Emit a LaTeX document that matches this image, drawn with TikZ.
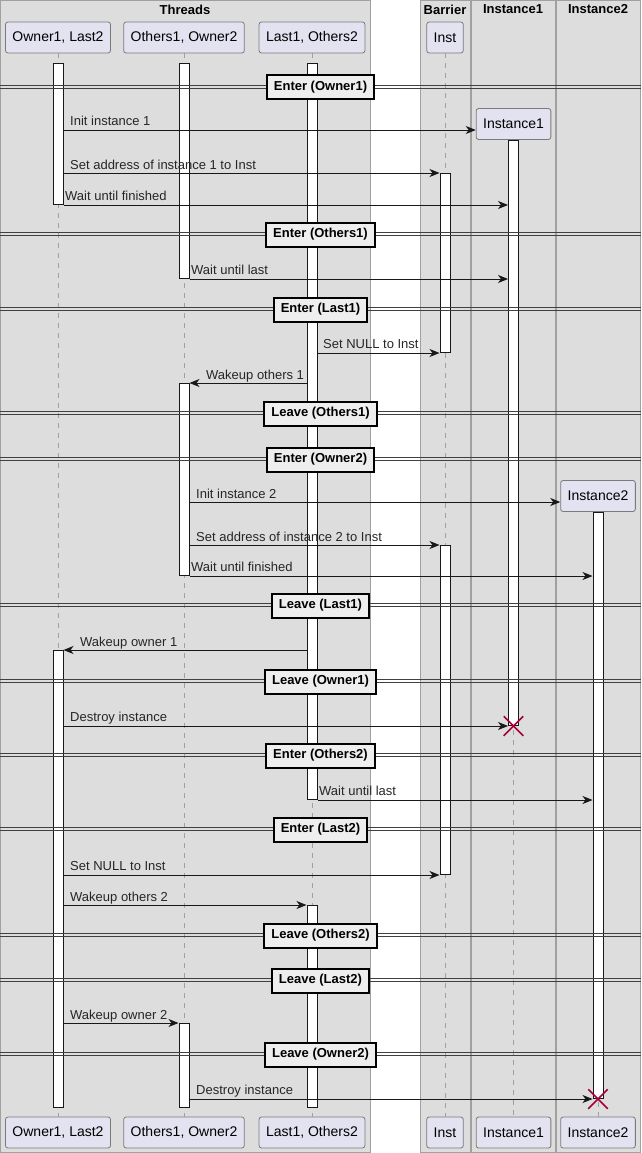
\documentclass[tikz,border=0pt]{standalone}
\usepackage{fontspec}
\setmainfont{Liberation Sans}
\usepackage{tikz}
\usetikzlibrary{shapes, arrows.meta}
\definecolor{boxgray}{HTML}{DDDDDD}
\definecolor{boxline}{HTML}{A0A0A0}
\definecolor{partfill}{HTML}{E2E2F0}
\definecolor{partline}{HTML}{7A7A7A}
\definecolor{dark}{HTML}{181818}
\definecolor{divfill}{HTML}{EEEEEE}
\definecolor{killred}{HTML}{A80036}

\begin{document}
\begin{tikzpicture}[x=1pt, y=-1pt,
	grp/.style={fill=boxgray, draw=boxline, line width=1},
	grptitle/.style={font=\fontsize{13}{15}\selectfont\bfseries, inner sep=0},
	part/.style={draw=partline, fill=partfill, rounded corners=2.5, minimum height=31, inner xsep=7, line width=0.8, font=\fontsize{14}{16}\selectfont},
	life/.style={draw=boxline, line width=1, dash pattern=on 5pt off 5pt},
	bar/.style={draw=dark, fill=white, minimum width=10, inner sep=0, line width=1, anchor=north},
	msg/.style={draw=dark, line width=0.9, -{Stealth[length=10pt, width=8pt, inset=3pt]}},
	lbl/.style={anchor=base west, inner sep=0, text=black!85, font=\fontsize{13}{15}\selectfont},
	divline/.style={draw=black!75, line width=0.9, postaction={draw, transform canvas={yshift=-3pt}}},
	divbox/.style={draw=black, fill=divfill, line width=2, inner xsep=7, minimum height=24, font=\fontsize{13}{15}\selectfont\bfseries},
	kill/.style={draw=killred, cross out, line width=1.5, minimum size=18, inner sep=0}]
		\useasboundingbox (0,0) rectangle (641,1153);
		% boxes
		\draw[grp] (0.5,0.5) rectangle (370,1152.5);
		\draw[grp] (420,0.5) rectangle (470,1152.5);
		\draw[grp] (471,0.5) rectangle (555.5,1152.5);
		\draw[grp] (556.5,0.5) rectangle (640.5,1152.5);
		\node[grptitle] (tThreads) at (185,9.5) {Threads};
		\node[grptitle] (tBarrier) at (445,9.5) {Barrier};
		\node[grptitle] (tInst1) at (513,9.5) {Instance1};
		\node[grptitle] (tInst2) at (598,9.5) {Instance2};
		% participants
		\node[part] (own) at (58,37.5) {Owner1, Last2};
		\node[part] (oth) at (184,37.5) {Others1, Owner2};
		\node[part] (lst) at (312,37.5) {Last1, Others2};
		\node[part] (inst) at (445,37.5) {Inst};
		\node[part] (ins1) at (513.5,124) {Instance1};
		\node[part] (ins2) at (598,496) {Instance2};
		\node[part] (ownB) at (58,1132.5) {Owner1, Last2};
		\node[part] (othB) at (184,1132.5) {Others1, Owner2};
		\node[part] (lstB) at (312,1132.5) {Last1, Others2};
		\node[part] (instB) at (445,1132.5) {Inst};
		\node[part] (ins1B) at (513.5,1132.5) {Instance1};
		\node[part] (ins2B) at (598,1132.5) {Instance2};
		% lifelines
		\draw[life] (own) -- (ownB);
		\draw[life] (oth) -- (othB);
		\draw[life] (lst) -- (lstB);
		\draw[life] (inst) -- (instB);
		\draw[life] (ins1) -- (ins1B);
		\draw[life] (ins2) -- (ins2B);
		% activations
		\node[bar, minimum height=141] (a1) at (58,63) {};
		\node[bar, minimum height=457] (a2) at (58,650) {};
		\node[bar, minimum height=215] (b1) at (184,63) {};
		\node[bar, minimum height=192] (b2) at (184,383) {};
		\node[bar, minimum height=84] (b3) at (184,1023) {};
		\node[bar, minimum height=736] (c1) at (312,63) {};
		\node[bar, minimum height=202] (c2) at (312,905) {};
		\node[bar, minimum height=179] (d1) at (445,173) {};
		\node[bar, minimum height=329] (d2) at (445,545) {};
		\node[bar, minimum height=585] (e1) at (513.5,140) {};
		\node[bar, minimum height=586] (f1) at (598,512) {};
		% messages
		\draw[msg] (a1.east |- 0,130) -- (ins1.west |- 0,130);
		\draw[msg] (a1.east |- d1.north) -- (d1.north west);
		\draw[msg] (a1.south east) -- (e1.west |- a1.south);
		\draw[msg] (b1.south east) -- (e1.west |- b1.south);
		\draw[msg] (c1.east |- d1.south) -- (d1.south west);
		\draw[msg] (c1.west |- b2.north) -- (b2.north east);
		\draw[msg] (b2.east |- 0,502) -- (ins2.west |- 0,502);
		\draw[msg] (b2.east |- d2.north) -- (d2.north west);
		\draw[msg] (b2.south east) -- (f1.west |- b2.south);
		\draw[msg] (c1.west |- a2.north) -- (a2.north east);
		\draw[msg] (a2.east |- e1.south) -- (e1.south west);
		\draw[msg] (c1.south east) -- (f1.west |- c1.south);
		\draw[msg] (a2.east |- d2.south) -- (d2.south west);
		\draw[msg] (a2.east |- c2.north) -- (c2.north west);
		\draw[msg] (a2.east |- b3.north) -- (b3.north west);
		\draw[msg] (b3.east |- f1.south) -- (f1.south west);
		\node[lbl] (m1) at (70,126) {Init instance 1};
		\node[lbl] (m2) at (70,169) {Set address of instance 1 to Inst};
		\node[lbl] (m3) at (65,200) {Wait until finished};
		\node[lbl] (m4) at (191,274) {Wait until last};
		\node[lbl] (m5) at (323,348) {Set NULL to Inst};
		\node[lbl] (m6) at (206,379) {Wakeup others 1};
		\node[lbl] (m7) at (196,498) {Init instance 2};
		\node[lbl] (m8) at (196,541) {Set address of instance 2 to Inst};
		\node[lbl] (m9) at (191,571) {Wait until finished};
		\node[lbl] (m10) at (80,646) {Wakeup owner 1};
		\node[lbl] (m11) at (70,721) {Destroy instance};
		\node[lbl] (m12) at (319,795) {Wait until last};
		\node[lbl] (m13) at (70,870) {Set NULL to Inst};
		\node[lbl] (m14) at (70,901) {Wakeup others 2};
		\node[lbl] (m15) at (70,1019) {Wakeup owner 2};
		\node[lbl] (m16) at (196,1094) {Destroy instance};
		% destroy marks
		\node[kill] (k1) at (e1.south) {};
		\node[kill] (k2) at (f1.south) {};
		% dividers
		\draw[divline] (0,85.5) -- (641,85.5);
		\node[divbox] (dv1) at (320.5,87.5) {Enter (Owner1)};
		\draw[divline] (0,232.5) -- (641,232.5);
		\node[divbox] (dv2) at (320.5,234.5) {Enter (Others1)};
		\draw[divline] (0,307.5) -- (641,307.5);
		\node[divbox] (dv3) at (320.5,309.5) {Enter (Last1)};
		\draw[divline] (0,411.5) -- (641,411.5);
		\node[divbox] (dv4) at (320.5,413.5) {Leave (Others1)};
		\draw[divline] (0,457.5) -- (641,457.5);
		\node[divbox] (dv5) at (320.5,459.5) {Enter (Owner2)};
		\draw[divline] (0,603.5) -- (641,603.5);
		\node[divbox] (dv6) at (320.5,605.5) {Leave (Last1)};
		\draw[divline] (0,679.5) -- (641,679.5);
		\node[divbox] (dv7) at (320.5,681.5) {Leave (Owner1)};
		\draw[divline] (0,753.5) -- (641,753.5);
		\node[divbox] (dv8) at (320.5,755.5) {Enter (Others2)};
		\draw[divline] (0,827.5) -- (641,827.5);
		\node[divbox] (dv9) at (320.5,829.5) {Enter (Last2)};
		\draw[divline] (0,933.5) -- (641,933.5);
		\node[divbox] (dv10) at (320.5,935.5) {Leave (Others2)};
		\draw[divline] (0,978.5) -- (641,978.5);
		\node[divbox] (dv11) at (320.5,980.5) {Leave (Last2)};
		\draw[divline] (0,1052.5) -- (641,1052.5);
		\node[divbox] (dv12) at (320.5,1054.5) {Leave (Owner2)};
\end{tikzpicture}
\end{document}
